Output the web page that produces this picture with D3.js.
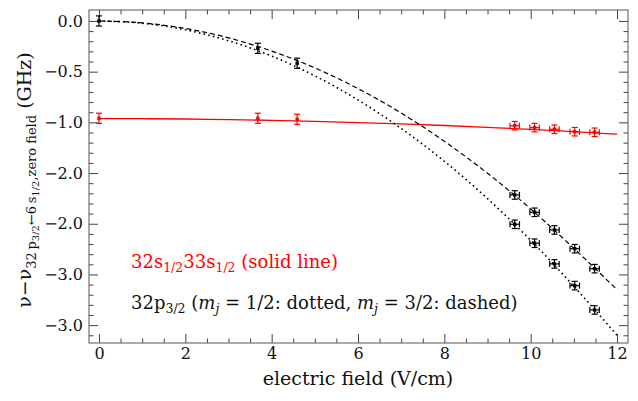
<!DOCTYPE html>
<meta charset="utf-8">
<head>
<script src="https://cdn.jsdelivr.net/npm/d3@7"></script>
<style>
	body { margin: 0; background: #fff; }
	text { font-family: "DejaVu Serif", serif; }
</style>
</head>
<body>
<div id="chart"></div>
<script>

// measured points
const fieldLow = [0, 3.68, 4.59]
const fieldHigh = [9.63, 10.09, 10.55, 11.02, 11.48]

const blackLow = [0, -0.27, -0.417]
const dashedPts = [-1.716, -1.887, -2.061, -2.246, -2.443]
const dottedPts = [-2.005, -2.192, -2.396, -2.61, -2.85]
const redLow = [-0.96, -0.96, -0.97]
const redHigh = [-1.033, -1.052, -1.068, -1.092, -1.098]

const errLowY = 0.05, errHighY = 0.042, errHighX = 0.11

const curveX = [0, 1, 2, 3, 4, 5, 6, 7, 8, 9, 10, 11, 12]
const dashedCurve = [0, -0.019, -0.074, -0.167, -0.297, -0.463, -0.667, -0.908, -1.187, -1.502, -1.854, -2.243, -2.65]
const dottedCurve = [0, -0.022, -0.087, -0.195, -0.346, -0.541, -0.779, -1.06, -1.384, -1.752, -2.163, -2.617, -3.1]
const redCurve = [-0.963, -0.964, -0.967, -0.973, -0.98, -0.99, -1.002, -1.015, -1.031, -1.05, -1.07, -1.092, -1.117]

const xTicks = [0, 2, 4, 6, 8, 10, 12]
const yTicks = [0, -0.5, -1, -1.5, -2, -2.5, -3]
const yTickLabels = ['0.0', '\u22120.5', '\u22121.0', '\u22122.0', '\u22122.0', '\u22123.0', '\u22123.0']

const W = 638, H = 401
const margin = {top: 10, right: 10, bottom: 58, left: 89}
const width = W - margin.left - margin.right,
	height = H - margin.top - margin.bottom

const svg = d3.select('#chart').append('svg')
	.attr('width', W)
	.attr('height', H)

const g = svg.append('g')
	.attr('transform', `translate(${margin.left},${margin.top})`)

const x = d3.scaleLinear().domain([-0.231, 12.254]).range([0, width])
const y = d3.scaleLinear().domain([-3.176, 0.108]).range([height, 0])

////////////////////////////////////
// AXES
////////////////////////////////////

const xMinor = d3.range(0, 12.01, 0.5).filter(v => v % 2 !== 0)
const yMinor = d3.range(-31, 1).map(v => v / 10).filter(v => Math.abs(v * 2 - Math.round(v * 2)) > 1e-6)

function styleAxis(sel) {
	sel.select('.domain').remove()
	sel.selectAll('line').attr('stroke', '#444').attr('stroke-width', 1)
	sel.selectAll('text')
		.attr('fill', '#111')
		.style('font-size', '16px')
		.style('font-family', '"DejaVu Serif", serif')
}

g.append('g').attr('transform', `translate(0,${height})`)
	.call(d3.axisBottom(x).tickValues(xTicks).tickSize(-9).tickPadding(5).tickFormat(d3.format('d')))
	.call(styleAxis)
g.append('g').attr('transform', `translate(0,${height})`)
	.call(d3.axisBottom(x).tickValues(xMinor).tickSize(-4.5).tickFormat(''))
	.call(styleAxis)
g.append('g')
	.call(d3.axisTop(x).tickValues(xTicks).tickSize(-9).tickFormat(''))
	.call(styleAxis)
g.append('g')
	.call(d3.axisTop(x).tickValues(xMinor).tickSize(-4.5).tickFormat(''))
	.call(styleAxis)

g.append('g')
	.call(d3.axisLeft(y).tickValues(yTicks).tickSize(-9).tickPadding(6).tickFormat((d, i) => yTickLabels[i]))
	.call(styleAxis)
g.append('g')
	.call(d3.axisLeft(y).tickValues(yMinor).tickSize(-4.5).tickFormat(''))
	.call(styleAxis)
g.append('g').attr('transform', `translate(${width},0)`)
	.call(d3.axisRight(y).tickValues(yTicks).tickSize(-9).tickFormat(''))
	.call(styleAxis)
g.append('g').attr('transform', `translate(${width},0)`)
	.call(d3.axisRight(y).tickValues(yMinor).tickSize(-4.5).tickFormat(''))
	.call(styleAxis)

g.append('rect')
	.attr('width', width)
	.attr('height', height)
	.attr('fill', 'none')
	.attr('stroke', '#555')
	.attr('stroke-width', 1)

////////////////////////////////////
// CURVES
////////////////////////////////////

const line = d3.line()
	.x((d, i) => x(curveX[i]))
	.y(d => y(d))
	.curve(d3.curveMonotoneX)

g.append('path').datum(redCurve)
	.attr('d', line).attr('fill', 'none')
	.attr('stroke', '#ff0000').attr('stroke-width', 1.3)

g.append('path').datum(dashedCurve)
	.attr('d', line).attr('fill', 'none')
	.attr('stroke', '#000').attr('stroke-width', 1.2)
	.attr('stroke-dasharray', '5,3')

g.append('path').datum(dottedCurve)
	.attr('d', line).attr('fill', 'none')
	.attr('stroke', '#000').attr('stroke-width', 1.6)
	.attr('stroke-dasharray', '1.6,3.2')

////////////////////////////////////
// POINTS
////////////////////////////////////

const pts = []
fieldLow.forEach((f, i) => {
	pts.push({x: f, y: blackLow[i], ex: 0, ey: errLowY, c: '#000'})
	pts.push({x: f, y: redLow[i], ex: 0, ey: errLowY, c: '#ff0000'})
})
fieldHigh.forEach((f, i) => {
	pts.push({x: f, y: dashedPts[i], ex: errHighX, ey: errHighY, c: '#000'})
	pts.push({x: f, y: dottedPts[i], ex: errHighX, ey: errHighY, c: '#000'})
	pts.push({x: f, y: redHigh[i], ex: errHighX, ey: errHighY, c: '#ff0000'})
})

const cap = 3
const pg = g.selectAll('.pt').data(pts).enter().append('g')
	.attr('class', 'pt')
	.attr('stroke', d => d.c)
	.attr('fill', d => d.c)
	.attr('stroke-width', 1.2)

pg.append('line')
	.attr('x1', d => x(d.x)).attr('x2', d => x(d.x))
	.attr('y1', d => y(d.y - d.ey)).attr('y2', d => y(d.y + d.ey))
pg.append('line')
	.attr('x1', d => x(d.x) - cap).attr('x2', d => x(d.x) + cap)
	.attr('y1', d => y(d.y - d.ey)).attr('y2', d => y(d.y - d.ey))
pg.append('line')
	.attr('x1', d => x(d.x) - cap).attr('x2', d => x(d.x) + cap)
	.attr('y1', d => y(d.y + d.ey)).attr('y2', d => y(d.y + d.ey))

const hx = pg.filter(d => d.ex > 0)
hx.append('line')
	.attr('x1', d => x(d.x - d.ex)).attr('x2', d => x(d.x + d.ex))
	.attr('y1', d => y(d.y)).attr('y2', d => y(d.y))
hx.append('line')
	.attr('x1', d => x(d.x - d.ex)).attr('x2', d => x(d.x - d.ex))
	.attr('y1', d => y(d.y) - cap).attr('y2', d => y(d.y) + cap)
hx.append('line')
	.attr('x1', d => x(d.x + d.ex)).attr('x2', d => x(d.x + d.ex))
	.attr('y1', d => y(d.y) - cap).attr('y2', d => y(d.y) + cap)

pg.append('rect')
	.attr('x', d => x(d.x) - 1.7).attr('y', d => y(d.y) - 1.7)
	.attr('width', 3.4).attr('height', 3.4)
	.attr('stroke', 'none')

////////////////////////////////////
// LABELS
////////////////////////////////////

svg.append('text')
	.attr('x', margin.left + x(6))
	.attr('y', 385)
	.attr('text-anchor', 'middle')
	.style('font-size', '19px')
	.attr('fill', '#111')
	.text('electric field (V/cm)')

const yl = svg.append('text')
	.attr('transform', 'translate(31,180) rotate(-90)')
	.attr('text-anchor', 'middle')
	.style('font-size', '19px')
	.attr('fill', '#111')
yl.append('tspan').text('\u03bd\u2212\u03bd')
yl.append('tspan').attr('dy', 5).style('font-size', '13px').text('32\u2009p')
yl.append('tspan').attr('dy', 3).style('font-size', '10px').text('3/2')
yl.append('tspan').attr('dy', -3).style('font-size', '13px').text('\u21906\u2009s')
yl.append('tspan').attr('dy', 3).style('font-size', '10px').text('1/2')
yl.append('tspan').attr('dy', -3).style('font-size', '13px').text(',zero field')
yl.append('tspan').attr('dy', -5).text(' (GHz)')

const l1 = svg.append('text')
	.attr('x', 131).attr('y', 268)
	.style('font-size', '18px')
	.attr('fill', '#ff0000')
l1.append('tspan').text('32s')
l1.append('tspan').attr('dy', 4).style('font-size', '12.5px').text('1/2')
l1.append('tspan').attr('dy', -4).text('33s')
l1.append('tspan').attr('dy', 4).style('font-size', '12.5px').text('1/2')
l1.append('tspan').attr('dy', -4).text(' (solid line)')

const l2 = svg.append('text')
	.attr('x', 131).attr('y', 309)
	.style('font-size', '18px')
	.attr('fill', '#111')
l2.append('tspan').text('32p')
l2.append('tspan').attr('dy', 4).style('font-size', '12.5px').text('3/2')
l2.append('tspan').attr('dy', -4).text(' (')
l2.append('tspan').style('font-style', 'italic').text('m')
l2.append('tspan').attr('dy', 4).style('font-size', '12.5px').style('font-style', 'italic').text('j')
l2.append('tspan').attr('dy', -4).text(' = 1/2: dotted, ')
l2.append('tspan').style('font-style', 'italic').text('m')
l2.append('tspan').attr('dy', 4).style('font-size', '12.5px').style('font-style', 'italic').text('j')
l2.append('tspan').attr('dy', -4).text(' = 3/2: dashed)')

</script>
</body>
